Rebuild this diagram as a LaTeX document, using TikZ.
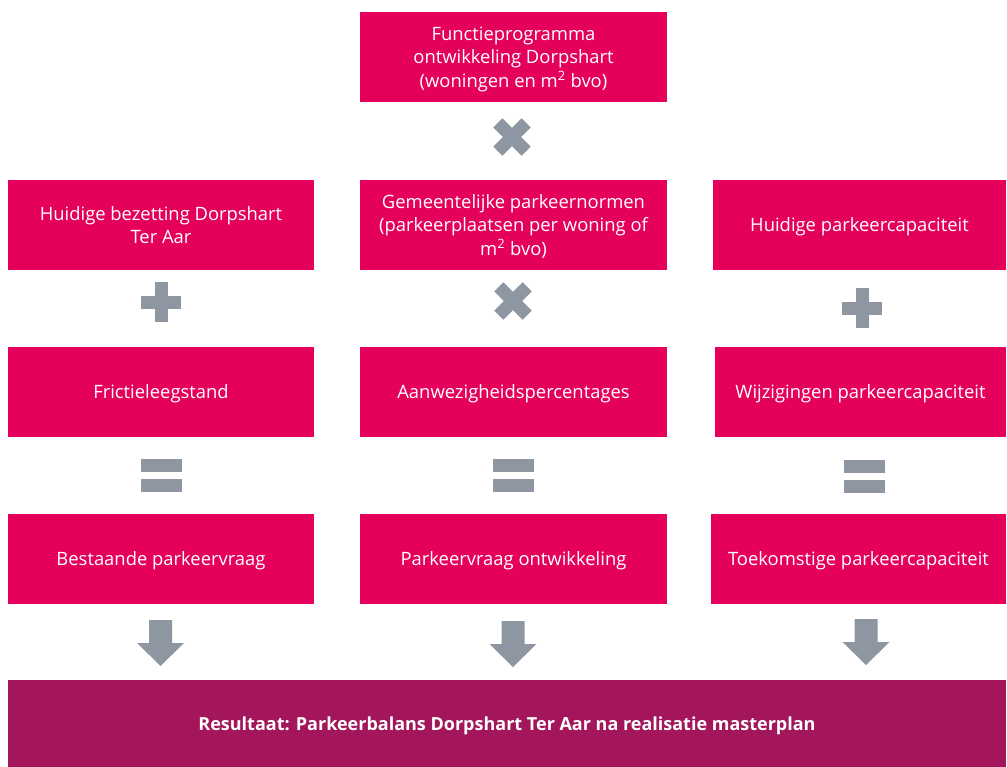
\documentclass[tikz,border=0pt]{standalone}
\usepackage{fontspec}
\setmainfont{Open Sans}
\definecolor{pinkbox}{HTML}{E4005B}
\definecolor{resbox}{HTML}{A3165B}
\definecolor{symgray}{HTML}{8D96A1}
\begin{document}
\begin{tikzpicture}[x=0.75pt,y=-0.75pt,
  box/.style={fill=pinkbox, text=white, draw=none, inner sep=0pt, align=center,
    text depth=0pt, font=\fontsize{13.8}{17.8}\selectfont},
  bsize/.style 2 args={minimum width={#1*0.75pt}, minimum height={#2*0.75pt}},
  resstyle/.style={fill=resbox, text=white, draw=none, inner sep=0pt,
    text depth=0pt, font=\bfseries\fontsize{13.5}{16}\selectfont},
  plussym/.pic={\fill[symgray] (-20,-6.5) rectangle (20,6.5);
                \fill[symgray] (-6.5,-20) rectangle (6.5,20);},
  eqsym/.pic={\fill[symgray] (-20.5,-16.5) rectangle (20.5,-3.5);
              \fill[symgray] (-20.5,3.5) rectangle (20.5,16.5);},
  arrowsym/.pic={\fill[symgray] (-11.5,0) -- (11.5,0) -- (11.5,23) -- (23.5,23)
                 -- (0,46) -- (-23.5,23) -- (-11.5,23) -- cycle;}
]
\useasboundingbox (0,0) rectangle (1007,767);

% top
\node[box, bsize={307}{90}] (func) at (513.5,57)
  {Functieprogramma\\ontwikkeling Dorpshart\\(woningen en m\textsuperscript{2} bvo)};

% row 2
\node[box, bsize={306}{90}] (huidbez) at (161,225) {Huidige bezetting Dorpshart\\Ter Aar};
\node[box, bsize={307}{90}] (normen) at (513.5,225)
  {Gemeentelijke parkeernormen\\(parkeerplaatsen per woning of\\m\textsuperscript{2} bvo)};
\node[box, bsize={293}{90}] (huidcap) at (859.5,225) {Huidige parkeercapaciteit};

% row 3
\node[box, bsize={306}{90}] (frictie) at (161,392) {Frictieleegstand};
\node[box, bsize={307}{90}] (aanw) at (513.5,392) {Aanwezigheidspercentages};
\node[box, bsize={291}{90}] (wijz) at (860.5,392) {Wijzigingen parkeercapaciteit};

% row 4
\node[box, bsize={306}{90}] (bestaand) at (161,559) {Bestaande parkeervraag};
\node[box, bsize={307}{90}] (ontw) at (513.5,559) {Parkeervraag ontwikkeling};
\node[box, bsize={295}{90}] (toek) at (858.5,559) {Toekomstige parkeercapaciteit};

% result
\node[resstyle, bsize={998}{87}] (result) at (507,723.5)
  {Resultaat: Parkeerbalans Dorpshart Ter Aar na realisatie masterplan};

% operators
\pic[rotate=45] at (512,137) {plussym};
\pic[rotate=45] at (513,301) {plussym};
\pic at (161,302) {plussym};
\pic at (862,308) {plussym};
\pic at (161,475.5) {eqsym};
\pic at (513,475.5) {eqsym};
\pic at (864,476.5) {eqsym};
\pic at (160.5,620) {arrowsym};
\pic at (513,621) {arrowsym};
\pic at (866,619) {arrowsym};
\end{tikzpicture}
\end{document}
